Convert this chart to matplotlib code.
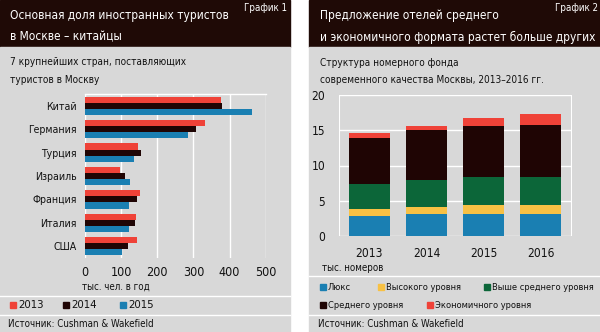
import numpy as np
import matplotlib
matplotlib.use("Agg")
import matplotlib.pyplot as plt
from matplotlib.patches import Rectangle

# ── Data: chart 1 (tourists, thousand people per year) ──────────────
countries = ["Китай", "Германия", "Турция", "Израиль", "Франция", "Италия", "США"]
years_1 = ["2013", "2014", "2015"]
tourists_2013 = [376, 331, 146, 96, 151, 142, 144]
tourists_2014 = [379, 307, 155, 111, 143, 138, 119]
tourists_2015 = [461, 284, 136, 125, 123, 121, 102]

# ── Data: chart 2 (hotel rooms, thousand) ───────────────────────────
years_2 = ["2013", "2014", "2015", "2016"]
segments = ["Люкс", "Высокого уровня", "Выше среднего уровня",
            "Среднего уровня", "Экономичного уровня"]
lux = [2.9, 3.07, 3.07, 3.07]
high = [1.0, 1.0, 1.28, 1.28]
upper_mid = [3.45, 3.83, 4.07, 4.07]
mid = [6.57, 7.1, 7.23, 7.32]
economy = [0.7, 0.65, 1.13, 1.56]

RED = "#ef4238"
BLACK = "#1f0504"
BLUE = "#1a7fb2"
YELLOW = "#f8c144"
GREEN = "#0c6639"
GREY = "#d8d8d8"
HEAD = "#1f0a06"

plt.rcParams["font.family"] = ["DejaVu Sans"]
plt.rcParams["font.stretch"] = "condensed"

W, H = 600, 332
fig = plt.figure(figsize=(6, 3.32), dpi=100)
fig.patch.set_facecolor("white")


def fx(x):
    return x / W


def fy(y):
    return 1 - y / H


def box(x0, y0, x1, y1, color, z=0):
    fig.patches.append(Rectangle((fx(x0), fy(y1)), (x1 - x0) / W, (y1 - y0) / H,
                                 transform=fig.transFigure, color=color, zorder=z))


def hline(x0, x1, y):
    fig.add_artist(plt.Line2D([fx(x0), fx(x1)], [fy(y), fy(y)], color="white",
                              lw=1, transform=fig.transFigure, zorder=1))


def text(x, y, s, size=9, color="#111111", **kw):
    fig.text(fx(x), fy(y), s, fontsize=size, color=color, va="center",
             stretch="condensed", zorder=3, **kw)


def add_axes(x0, y0, x1, y1):
    ax = fig.add_axes([fx(x0), fy(y1), (x1 - x0) / W, (y1 - y0) / H])
    ax.set_zorder(2)
    ax.set_facecolor(GREY)
    for s in ax.spines.values():
        s.set_visible(False)
    ax.tick_params(length=0, labelsize=9, colors="#111111")
    return ax


# panels
box(0, 0, 290, 47, HEAD)
box(0, 47, 290, 332, GREY)
box(309, 0, 600, 47, HEAD)
box(309, 47, 600, 332, GREY)

# ── Left panel ─────────────────────────────────────────────────────
text(10, 16, "Основная доля иностранных туристов", 8.6, "white")
text(10, 37, "в Москве – китайцы", 8.6, "white")
text(287, 8, "График 1", 7, "white", ha="right")
text(10, 62, "7 крупнейших стран, поставляющих", 7.2)
text(10, 80, "туристов в Москву", 7.2)

ax1 = add_axes(85, 94, 265.7, 258)
yy = np.arange(len(countries))
bh = 0.26
for off, vals, col in [(-bh, tourists_2013, RED), (0, tourists_2014, BLACK),
                       (bh, tourists_2015, BLUE)]:
    ax1.barh(yy + off, vals, height=bh, color=col, zorder=3)
ax1.set_xlim(0, 500)
ax1.set_ylim(len(countries) - 0.5, -0.5)
ax1.set_xticks([0, 100, 200, 300, 400, 500])
ax1.set_yticks(yy)
ax1.set_yticklabels(countries, fontsize=7.6)
ax1.tick_params(axis="x", pad=6, labelsize=9)
ax1.tick_params(axis="y", pad=6)
ax1.grid(axis="x", color="white", lw=1, zorder=1)
ax1.plot([0, 500], [-0.5, -0.5], color="white", lw=1, clip_on=False, zorder=2)
text(82, 287, "тыс. чел. в год", 7)

hline(0, 290, 296)
for x, col, lab in [(10, RED, years_1[0]), (63, BLACK, years_1[1]), (120, BLUE, years_1[2])]:
    box(x, 302, x + 6, 308, col, 3)
    text(x + 8, 305, lab, 8.2)
hline(0, 290, 315)
text(8, 324, "Источник: Cushman & Wakefield", 7)

# ── Right panel ────────────────────────────────────────────────────
text(320, 16, "Предложение отелей среднего", 8.6, "white")
text(320, 37, "и экономичного формата растет больше других", 8.6, "white")
text(598, 8, "График 2", 7, "white", ha="right")
text(320, 63, "Структура номерного фонда", 7.2)
text(320, 80, "современного качества Москвы, 2013–2016 гг.", 7.2)

ax2 = add_axes(339, 95, 572, 236)
xx = np.arange(len(years_2))
bottom = np.zeros(len(years_2))
for vals, col in zip([lux, high, upper_mid, mid, economy],
                     [BLUE, YELLOW, GREEN, BLACK, RED]):
    ax2.bar(xx, vals, bottom=bottom, width=0.72, color=col, zorder=3)
    bottom += np.array(vals)
ax2.set_ylim(0, 20)
ax2.set_xlim(-0.535, 3.553)
ax2.set_yticks([0, 5, 10, 15, 20])
ax2.set_xticks(xx)
ax2.set_xticklabels(years_2, fontsize=8.6)
ax2.tick_params(axis="y", pad=10, labelsize=8.6)
ax2.tick_params(axis="x", pad=8)
ax2.grid(axis="y", color="white", lw=1, zorder=1)
ax2.axvline(-0.535, color="white", lw=1.5, zorder=2)
ax2.axvline(3.553, color="white", lw=1.5, zorder=2)
text(322, 268, "тыс. номеров", 7)

hline(309, 600, 276)
leg = [(320, 287, BLUE), (378, 287, YELLOW), (484, 287, GREEN),
       (320, 305, BLACK), (427, 305, RED)]
for (x, y, col), lab in zip(leg, segments):
    box(x, y - 3, x + 6, y + 3, col, 3)
    text(x + 8, y, lab, 6.7)
hline(309, 600, 315)
text(318, 324, "Источник: Cushman & Wakefield", 7)

fig.savefig("out.png", dpi=100, facecolor="white")
